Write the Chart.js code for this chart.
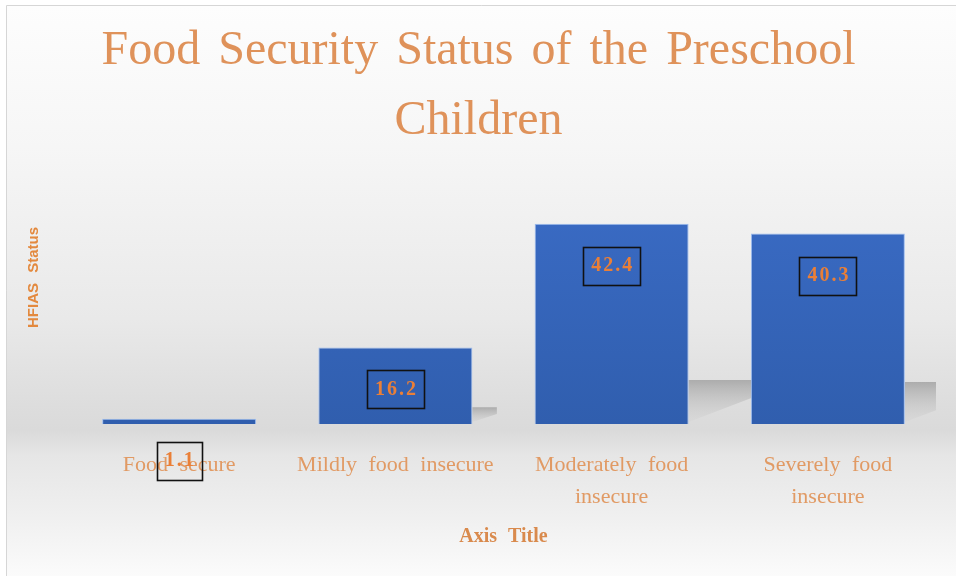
<!DOCTYPE html>
<html>
<head>
<meta charset="utf-8">
<script src="https://cdn.jsdelivr.net/npm/chart.js@4.4.1/dist/chart.umd.min.js"></script>
<style>
  html, body { margin: 0; padding: 0; background: #ffffff; }
  #wrap { width: 956px; height: 576px; position: relative; }
</style>
</head>
<body>
<div id="wrap"><canvas id="c" width="956" height="576"></canvas></div>
<script>
// Share of preschool children by HFIAS category (%)
const categories = [
  'Food secure',
  'Mildly food insecure',
  ['Moderately food', 'insecure'],
  ['Severely food', 'insecure']
];
const percentages = [1.1, 16.2, 42.4, 40.3];
const titleLines = ['Food Security Status of the Preschool', 'Children'];
const xTitle = 'Axis Title';
const yTitle = 'HFIAS Status';

const ORANGE_TEXT = '#e19a64';
const ORANGE_TITLE = '#df925a';
const ORANGE_VALUE = '#ea7f37';

// Soft grey backdrop with a thin frame on the top and left
const backdrop = {
  id: 'backdrop',
  beforeDraw(chart) {
    const { ctx, width, height } = chart;
    ctx.save();
    ctx.fillStyle = '#ffffff';
    ctx.fillRect(0, 0, width, height);
    const g = ctx.createLinearGradient(0, 5, 0, height);
    g.addColorStop(0.00, '#fdfdfd');
    g.addColorStop(0.25, '#f6f6f6');
    g.addColorStop(0.55, '#e9e9e9');
    g.addColorStop(0.70, '#dddddd');
    g.addColorStop(0.745, '#dadada');
    g.addColorStop(0.79, '#e6e6e6');
    g.addColorStop(0.90, '#f0f0f0');
    g.addColorStop(1.00, '#fbfbfb');
    ctx.fillStyle = g;
    ctx.fillRect(6, 5, width - 6, height - 5);
    ctx.strokeStyle = '#d6d6d6';
    ctx.lineWidth = 1;
    ctx.beginPath();
    ctx.moveTo(6.5, height);
    ctx.lineTo(6.5, 5.5);
    ctx.lineTo(width, 5.5);
    ctx.stroke();
    ctx.restore();
    // wider gaps between words for the axis texts
    ctx.wordSpacing = '6px';
  }
};

// Perspective shadow cast to the right of each bar
const barShadow = {
  id: 'barShadow',
  beforeDatasetsDraw(chart) {
    const { ctx, chartArea } = chart;
    const meta = chart.getDatasetMeta(0);
    ctx.save();
    ctx.beginPath();
    ctx.rect(chartArea.left, chartArea.top, chartArea.right - chartArea.left, chartArea.bottom - chartArea.top + 2);
    ctx.clip();
    meta.data.forEach(bar => {
      const h = bar.base - bar.y;
      if (h < 20) return;
      const right = bar.x + bar.width / 2;
      const sh = h * 0.22;
      const sw = h * 0.32;
      const g = ctx.createLinearGradient(0, bar.base - sh, 0, bar.base);
      g.addColorStop(0, 'rgba(150,150,150,0.7)');
      g.addColorStop(1, 'rgba(205,205,205,0.15)');
      ctx.fillStyle = g;
      ctx.beginPath();
      ctx.moveTo(right, bar.base - sh);
      ctx.lineTo(right + sw, bar.base - sh);
      ctx.lineTo(right + sw, bar.base - sh * 0.6);
      ctx.lineTo(right, bar.base - 2);
      ctx.closePath();
      ctx.fill();
    });
    ctx.restore();
  }
};

// Boxed value labels placed a fixed distance below each bar top
const valueBoxes = {
  id: 'valueBoxes',
  afterDatasetsDraw(chart) {
    const { ctx } = chart;
    const meta = chart.getDatasetMeta(0);
    ctx.save();
    ctx.font = 'bold 20px "Liberation Serif", serif';
    ctx.letterSpacing = '2px';
    ctx.textAlign = 'center';
    ctx.textBaseline = 'middle';
    meta.data.forEach((bar, i) => {
      const label = String(percentages[i]);
      const cx = bar.x;
      const cy = bar.y + 42;
      const w = ctx.measureText(label).width + 14;
      const hgt = 38;
      ctx.fillStyle = ORANGE_VALUE;
      ctx.fillText(label, cx + 1, cy);
      ctx.strokeStyle = '#111111';
      ctx.lineWidth = 1.6;
      ctx.strokeRect(Math.round(cx - w / 2) + 0.5, Math.round(cy - hgt / 2) + 0.5, Math.round(w), hgt);
    });
    ctx.restore();
  }
};

new Chart(document.getElementById('c'), {
  type: 'bar',
  data: {
    labels: categories,
    datasets: [{
      data: percentages,
      backgroundColor(context) {
        const area = context.chart.chartArea;
        if (!area) return '#3766be';
        const g = context.chart.ctx.createLinearGradient(0, area.top, 0, area.bottom);
        g.addColorStop(0, '#3d6fcb');
        g.addColorStop(1, '#305eae');
        return g;
      },
      borderColor: '#9bbcf0',
      borderWidth: 1,
      categoryPercentage: 1,
      barPercentage: 0.712
    }]
  },
  options: {
    responsive: false,
    animation: false,
    events: [],
    layout: { padding: { top: 5, left: 21, right: 20, bottom: 19 } },
    plugins: {
      legend: { display: false },
      tooltip: { enabled: false },
      title: {
        display: true,
        text: titleLines,
        color: ORANGE_TITLE,
        font: { family: '"Liberation Serif", serif', size: 48, weight: 'normal', lineHeight: 70 / 48 },
        padding: { top: 11, bottom: -25 }
      }
    },
    scales: {
      x: {
        grid: { display: false, drawTicks: false },
        border: { display: false },
        ticks: {
          color: ORANGE_TEXT,
          font: { family: '"Liberation Serif", serif', size: 22, lineHeight: 32 / 22 },
          padding: 25,
          autoSkip: false,
          maxRotation: 0
        },
        title: {
          display: true,
          text: xTitle,
          color: '#d98a4d',
          font: { family: '"Liberation Serif", serif', size: 20, weight: 'bold', lineHeight: 1.2 },
          padding: { top: -13, bottom: 8 }
        }
      },
      y: {
        min: 0,
        max: 62,
        grid: { display: false, drawTicks: false },
        border: { display: false },
        ticks: { display: false },
        title: {
          display: true,
          text: yTitle,
          color: '#e3893e',
          font: { family: '"Liberation Sans", sans-serif', size: 15, weight: 'bold', lineHeight: 1.2 },
          padding: { top: 4, bottom: 28 }
        }
      }
    }
  },
  plugins: [backdrop, barShadow, valueBoxes]
});
</script>
</body>
</html>
